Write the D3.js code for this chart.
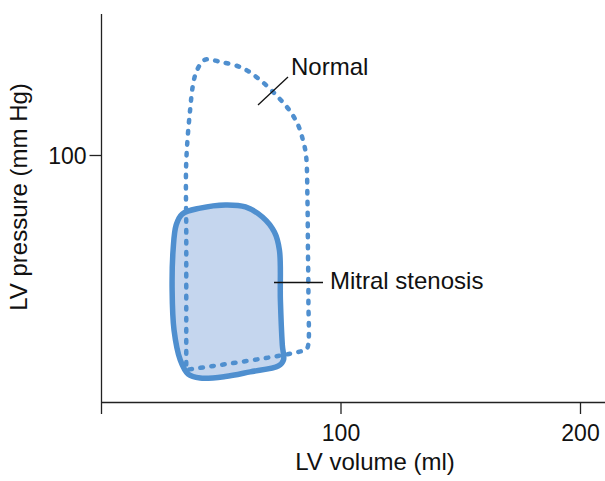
<!DOCTYPE html>
<html>
<head>
<meta charset="utf-8">
<script src="https://cdn.jsdelivr.net/npm/d3@7"></script>
<style>
  html, body { margin: 0; padding: 0; background: #fff; }
  svg { display: block; font-family: "Liberation Sans", Arial, Helvetica, sans-serif; }
</style>
</head>
<body>
<div id="chart"></div>
<script>
// LV pressure-volume loops, [volume ml, pressure mmHg]
let normalLoop = [
    [35.6, 13], [37, 13.2], [85, 21], [86.2, 22], [86.6, 41], [86.4, 62], [86.2, 82],
    [85.6, 100], [84.3, 106.1], [82.3, 112.1], [78.9, 117.8], [73.5, 123.9], [66.4, 130.4],
    [58.9, 135.3], [49.7, 137.7], [43.5, 138.6], [40.1, 134.4], [38.4, 128.3], [37.2, 118.2],
    [36.1, 106], [35.5, 94], [35.6, 70], [35.6, 50], [35.6, 15]
];
let stenosisLoop = [
    [29.7, 45.3], [30.1, 61.5], [31.4, 71.7], [33.9, 76.1], [41.4, 78.5], [51.9, 79.8],
    [60.3, 79], [67.4, 74.9], [72.4, 68.8], [74.5, 61.5], [74.9, 41.3], [75.7, 23.1],
    [76.2, 17], [74.1, 14.6], [62.3, 12.2], [51.9, 10.3], [41.4, 9.7], [36.4, 11.3],
    [33.1, 17], [30.5, 29.1]
];
let xTicks = [0, 100, 200];
let yTicks = [100];
let xTitle = 'LV volume (ml)';
let yTitle = 'LV pressure (mm Hg)';

let width = 605, height = 481;
let blue = '#4f8fcf';

let svg = d3.select('#chart').append('svg')
    .attr('width', width)
    .attr('height', height);

let x = d3.scaleLinear().domain([0, 200]).range([101, 580]);
let y = d3.scaleLinear().domain([0, 100]).range([402, 155]);

// axes
let xAxis = svg.append('g')
    .attr('transform', `translate(0, ${y(0)})`)
    .call(d3.axisBottom(x).tickValues(xTicks).tickSize(12).tickSizeOuter(0)
        .tickFormat(d => d === 0 ? '' : d));
xAxis.select('.domain').attr('d', `M${x(0)},0.5H${width}`);
let yAxis = svg.append('g')
    .attr('transform', `translate(${x(0) + 0.5}, 0)`)
    .call(d3.axisLeft(y).tickValues(yTicks).tickSize(12).tickSizeOuter(0));
yAxis.select('.domain').attr('d', `M0,${y(0)}V14`);

svg.selectAll('.domain, .tick line').attr('stroke', '#222').attr('stroke-width', 1.3);
svg.selectAll('.tick text')
    .attr('fill', '#111')
    .style('font-size', '23px')
    .style('font-family', '"Liberation Sans", Arial, sans-serif');
xAxis.selectAll('.tick text').attr('dy', null).attr('y', 38.5);
yAxis.selectAll('.tick text').attr('dy', '0.36em').attr('x', -15);

svg.append('text')
    .attr('x', 375).attr('y', 470)
    .attr('text-anchor', 'middle')
    .style('font-size', '24px')
    .attr('fill', '#111')
    .text(xTitle);
svg.append('text')
    .attr('transform', 'translate(27, 197) rotate(-90)')
    .attr('text-anchor', 'middle')
    .style('font-size', '24px')
    .attr('fill', '#111')
    .text(yTitle);

let line = d3.line()
    .x(d => x(d[0]))
    .y(d => y(d[1]))
    .curve(d3.curveCatmullRomClosed.alpha(0.5));

// mitral stenosis loop (filled)
svg.append('path')
    .attr('d', line(stenosisLoop))
    .attr('fill', '#c5d6ee')
    .attr('stroke', blue)
    .attr('stroke-width', 5.5)
    .attr('stroke-linejoin', 'round');

// normal loop (dotted)
svg.append('path')
    .attr('d', line(normalLoop))
    .attr('fill', 'none')
    .attr('stroke', blue)
    .attr('stroke-width', 4.5)
    .attr('stroke-linecap', 'round')
    .attr('stroke-dasharray', '2.5 8.5');

// callouts
svg.append('line')
    .attr('x1', 258).attr('y1', 105).attr('x2', 288).attr('y2', 77)
    .attr('stroke', '#111').attr('stroke-width', 1.3);
svg.append('text')
    .attr('x', 291).attr('y', 75)
    .style('font-size', '24px')
    .attr('fill', '#111')
    .text('Normal');

svg.append('line')
    .attr('x1', 274).attr('y1', 282.5).attr('x2', 323).attr('y2', 282.5)
    .attr('stroke', '#111').attr('stroke-width', 1.3);
svg.append('text')
    .attr('x', 330).attr('y', 289)
    .style('font-size', '24px')
    .attr('fill', '#111')
    .text('Mitral stenosis');
</script>
</body>
</html>
